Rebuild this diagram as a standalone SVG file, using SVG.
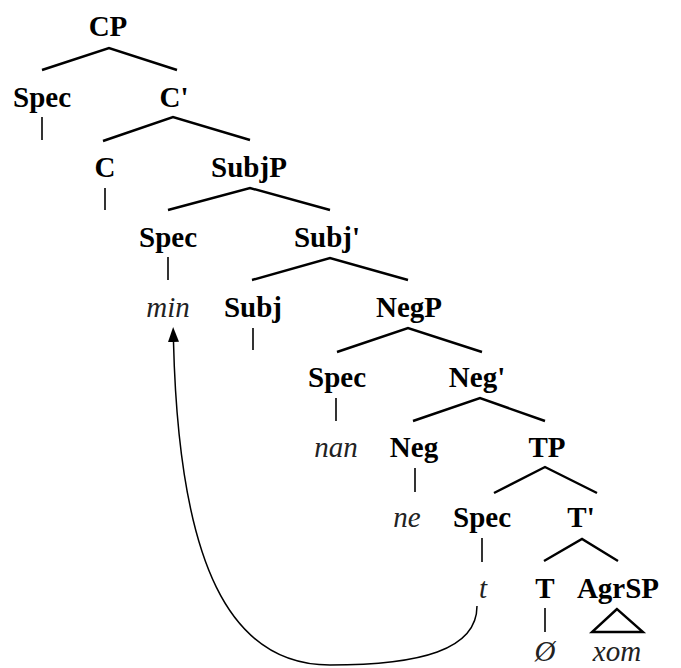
<svg xmlns="http://www.w3.org/2000/svg" width="681" height="668" viewBox="0 0 681 668">
  <style>
    text { font-family: "Liberation Serif", "Times New Roman", serif; font-size: 29px; text-anchor: middle; fill: #000; }
    .cat { font-weight: bold; }
    .lex { font-style: italic; fill: #222; }
    .branch { stroke: #000; stroke-width: 2.4; fill: none; stroke-linecap: butt; }
    .stem { stroke: #000; stroke-width: 1.6; fill: none; }
    .move { stroke: #000; stroke-width: 1.5; fill: none; }
  </style>
  <defs>
    <!-- solid arrowhead, drawn along +x so orient="auto" follows the path -->
    <marker id="head" viewBox="0 0 15 11" refX="0" refY="5.5" markerWidth="15" markerHeight="11" markerUnits="userSpaceOnUse" orient="auto">
      <path d="M0,0 L15,5.5 L0,11 Z" fill="#000"/>
    </marker>
  </defs>

  <rect width="681" height="668" fill="#fff"/>

  <!-- tree edges -->
  <g id="connectors">
    <polyline class="branch" points="42,70 109,48 177,70"/>
    <polyline class="stem" points="42,117 42,140"/>
    <polyline class="branch" points="103,141 173,117 250,140"/>
    <polyline class="stem" points="105,188 105,210"/>
    <polyline class="branch" points="168,210 250,188 330,210"/>
    <polyline class="stem" points="168,257 168,280"/>
    <polyline class="branch" points="252,280 330,258 408,280"/>
    <polyline class="stem" points="253,328 253,350"/>
    <polyline class="branch" points="337,352 408,328 482,352"/>
    <polyline class="stem" points="336,398 336,421"/>
    <polyline class="branch" points="413,421 480,398 545,421"/>
    <polyline class="stem" points="415,468 415,492"/>
    <polyline class="branch" points="494,493 545,467 597,493"/>
    <polyline class="stem" points="482,538 482,562"/>
    <polyline class="branch" points="544,561 582,539 618,561"/>
    <polyline class="stem" points="545,608 545,632"/>
    <polygon class="branch" points="617,609 592,632 643,632"/>
    <!-- movement arrow from the trace up to min -->
    <path class="move" marker-end="url(#head)" d="M477,606 C477,650 420,665 330,665 C230,665 179,565 173.5,342"/>
  </g>

  <g id="cp"><text class="cat" x="108" y="36">CP</text></g>
  <g id="spec-c"><text class="cat" x="42" y="107">Spec</text></g>
  <g id="c-bar"><text class="cat" x="174" y="107">C'</text></g>
  <g id="c"><text class="cat" x="105" y="177">C</text></g>
  <g id="subjp"><text class="cat" x="249" y="177">SubjP</text></g>
  <g id="spec-subj"><text class="cat" x="168" y="247">Spec</text></g>
  <g id="subj-bar"><text class="cat" x="327" y="247">Subj'</text></g>
  <g id="min"><text class="lex" x="168" y="317">min</text></g>
  <g id="subj"><text class="cat" x="253" y="317">Subj</text></g>
  <g id="negp"><text class="cat" x="409" y="317">NegP</text></g>
  <g id="spec-neg"><text class="cat" x="337" y="387">Spec</text></g>
  <g id="neg-bar"><text class="cat" x="477" y="387">Neg'</text></g>
  <g id="nan"><text class="lex" x="336" y="457">nan</text></g>
  <g id="neg"><text class="cat" x="414" y="457">Neg</text></g>
  <g id="tp"><text class="cat" x="547" y="457">TP</text></g>
  <g id="ne"><text class="lex" x="407" y="527">ne</text></g>
  <g id="spec-t"><text class="cat" x="482" y="527">Spec</text></g>
  <g id="t-bar"><text class="cat" x="581" y="527">T'</text></g>
  <g id="trace"><text class="lex" x="483" y="598">t</text></g>
  <g id="t"><text class="cat" x="545" y="598">T</text></g>
  <g id="agrsp"><text class="cat" x="618" y="598">AgrSP</text></g>
  <g id="null"><text class="lex" x="545" y="661">Ø</text></g>
  <g id="xom"><text class="lex" x="617" y="661">xom</text></g>
</svg>
